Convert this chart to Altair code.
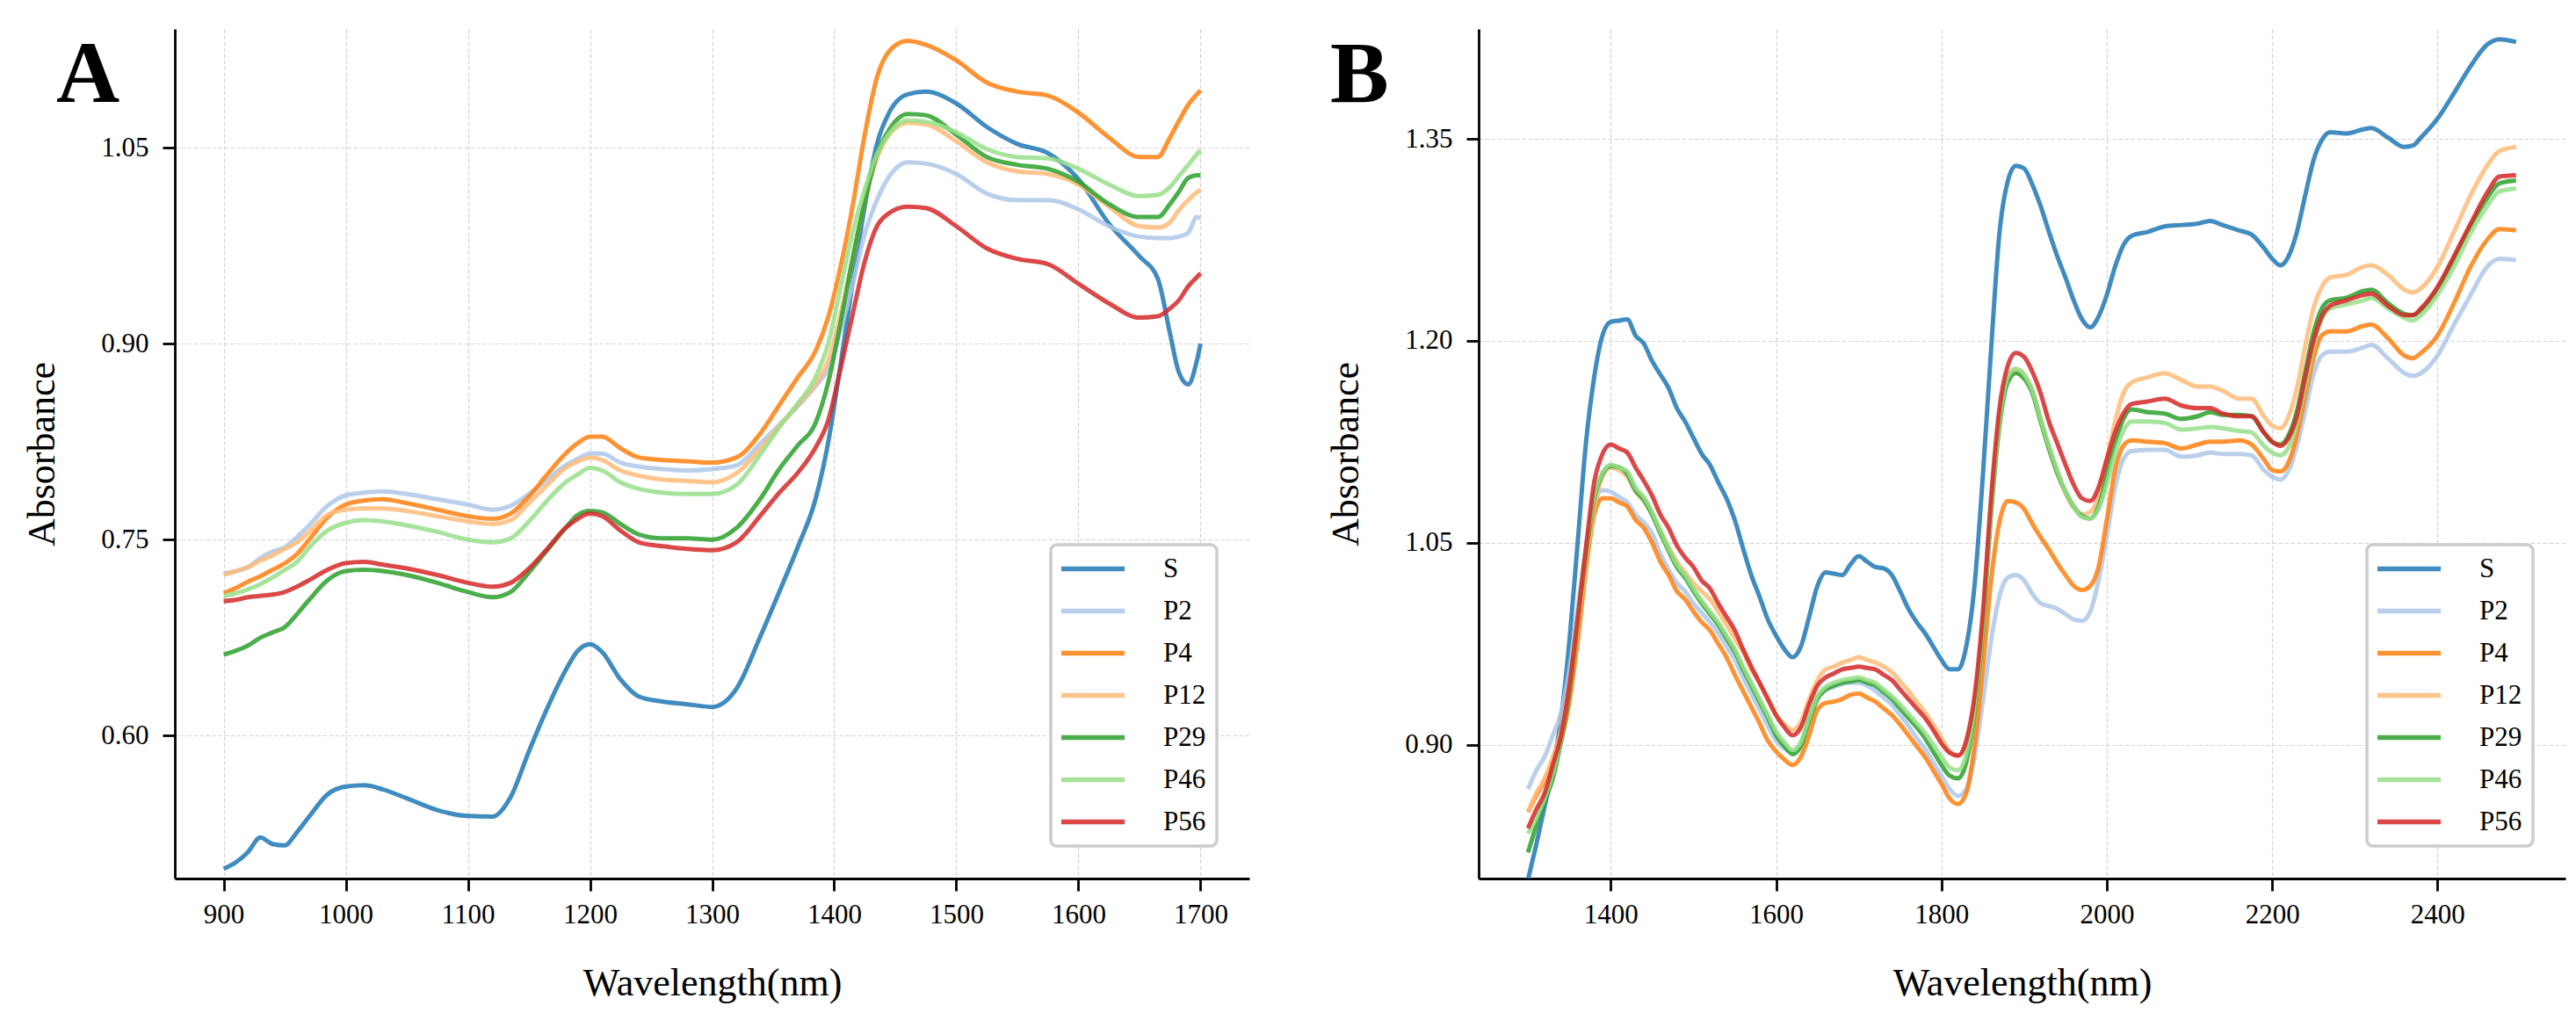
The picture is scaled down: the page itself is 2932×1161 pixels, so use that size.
import altair as alt
import pandas as pd

SERIES = ["S", "P2", "P4", "P12", "P29", "P46", "P56"]
COLORS = ["#1f77b4", "#aec7e8", "#ff7f0e", "#ffbb78", "#2ca02c", "#98df8a", "#d62728"]
FONT = "Liberation Serif"

# ---------------- Panel A (900-1700 nm) ----------------
WA = [900, 910, 920, 930, 940, 950, 960, 970, 985, 1000,
      1015, 1030, 1050, 1075, 1100, 1120, 1135, 1150, 1165, 1180,
      1190, 1200, 1210, 1225, 1240, 1260, 1280, 1300, 1320, 1340,
      1355, 1370, 1385, 1395, 1405, 1415, 1425, 1435, 1445, 1460,
      1475, 1500, 1525, 1550, 1575, 1600, 1625, 1650, 1665, 1675,
      1682, 1690, 1697, 1700]

A_S = [0.498, 0.503, 0.511, 0.522, 0.517, 0.516, 0.526, 0.538, 0.555, 0.561,
       0.562, 0.559, 0.552, 0.543, 0.5385, 0.538, 0.553, 0.588, 0.621, 0.650,
       0.665, 0.670, 0.664, 0.643, 0.630, 0.626, 0.624, 0.622, 0.636, 0.677,
       0.710, 0.744, 0.782, 0.824, 0.883, 0.946, 1.005, 1.053, 1.077, 1.091,
       1.093, 1.084, 1.066, 1.053, 1.046, 1.026, 0.992, 0.967, 0.950, 0.908,
       0.879, 0.869, 0.887, 0.900]
A_P2 = [0.724, 0.726, 0.729, 0.736, 0.741, 0.744, 0.752, 0.761, 0.776, 0.784,
        0.786, 0.787, 0.785, 0.781, 0.777, 0.773, 0.776, 0.785, 0.796, 0.807,
        0.812, 0.816, 0.816, 0.809, 0.806, 0.804, 0.803, 0.804, 0.807, 0.824,
        0.838, 0.852, 0.868, 0.881, 0.910, 0.945, 0.984, 1.010, 1.028, 1.039,
        1.038, 1.030, 1.015, 1.010, 1.010, 1.003, 0.990, 0.982, 0.981, 0.981,
        0.982, 0.985, 0.997, 0.996]
A_P4 = [0.709, 0.713, 0.718, 0.722, 0.727, 0.732, 0.739, 0.750, 0.767, 0.777,
        0.780, 0.781, 0.778, 0.773, 0.768, 0.766, 0.770, 0.783, 0.800, 0.816,
        0.824, 0.829, 0.829, 0.820, 0.813, 0.811, 0.810, 0.809, 0.813, 0.832,
        0.853, 0.874, 0.895, 0.920, 0.958, 1.005, 1.060, 1.104, 1.124, 1.132,
        1.129, 1.117, 1.100, 1.093, 1.090, 1.077, 1.058, 1.043, 1.043, 1.058,
        1.070, 1.083, 1.091, 1.094]
A_P12 = [0.723, 0.726, 0.729, 0.734, 0.738, 0.743, 0.748, 0.756, 0.769, 0.773,
         0.774, 0.774, 0.772, 0.768, 0.764, 0.762, 0.765, 0.778, 0.792, 0.805,
         0.810, 0.813, 0.811, 0.803, 0.799, 0.796, 0.795, 0.794, 0.801, 0.820,
         0.837, 0.853, 0.870, 0.887, 0.922, 0.964, 1.009, 1.042, 1.060, 1.069,
         1.068, 1.055, 1.039, 1.032, 1.030, 1.022, 1.005, 0.990, 0.989, 0.993,
         1.002, 1.010, 1.016, 1.018]
A_P29 = [0.662, 0.665, 0.669, 0.675, 0.679, 0.683, 0.693, 0.704, 0.719, 0.726,
         0.727, 0.726, 0.723, 0.717, 0.710, 0.706, 0.710, 0.725, 0.742, 0.759,
         0.769, 0.772, 0.771, 0.762, 0.754, 0.751, 0.751, 0.750, 0.759, 0.782,
         0.804, 0.822, 0.840, 0.870, 0.915, 0.965, 1.009, 1.045, 1.064, 1.076,
         1.075, 1.060, 1.043, 1.037, 1.034, 1.024, 1.007, 0.997, 0.997, 1.007,
         1.016, 1.027, 1.029, 1.029]
A_P46 = [0.707, 0.709, 0.712, 0.716, 0.721, 0.727, 0.733, 0.744, 0.757, 0.763,
         0.765, 0.764, 0.761, 0.756, 0.750, 0.748, 0.751, 0.764, 0.780, 0.794,
         0.800, 0.805, 0.803, 0.794, 0.789, 0.786, 0.785, 0.785, 0.792, 0.816,
         0.836, 0.854, 0.875, 0.900, 0.942, 0.985, 1.018, 1.045, 1.061, 1.071,
         1.070, 1.062, 1.049, 1.043, 1.042, 1.034, 1.022, 1.013, 1.014, 1.020,
         1.028, 1.037, 1.045, 1.048]
A_P56 = [0.703, 0.704, 0.706, 0.707, 0.708, 0.710, 0.714, 0.719, 0.727, 0.732,
         0.733, 0.731, 0.728, 0.723, 0.717, 0.714, 0.717, 0.728, 0.743, 0.759,
         0.766, 0.770, 0.768, 0.757, 0.748, 0.745, 0.743, 0.742, 0.748, 0.769,
         0.786, 0.801, 0.821, 0.841, 0.880, 0.922, 0.963, 0.990, 1.000, 1.005,
         1.004, 0.990, 0.973, 0.965, 0.961, 0.946, 0.931, 0.920, 0.921, 0.927,
         0.933, 0.944, 0.951, 0.954]

# ---------------- Panel B (1300-2495 nm) ----------------
WB = [1300, 1310, 1320, 1330, 1340, 1350, 1360, 1370, 1380, 1390,
      1400, 1410, 1420, 1430, 1440, 1450, 1460, 1470, 1480, 1490,
      1500, 1510, 1520, 1530, 1540, 1550, 1560, 1570, 1580, 1590,
      1600, 1610, 1620, 1630, 1640, 1650, 1660, 1670, 1680, 1690,
      1700, 1710, 1720, 1730, 1740, 1750, 1760, 1770, 1780, 1790,
      1800, 1810, 1820, 1830, 1840, 1850, 1860, 1870, 1880, 1890,
      1900, 1910, 1920, 1930, 1940, 1950, 1960, 1970, 1980, 1990,
      2000, 2010, 2020, 2030, 2050, 2070, 2090, 2110, 2125, 2140,
      2160, 2175, 2190, 2200, 2210, 2220, 2230, 2240, 2250, 2260,
      2270, 2290, 2310, 2320, 2340, 2360, 2370, 2380, 2400, 2420,
      2440, 2460, 2475, 2495]

B_S = [0.800, 0.826, 0.854, 0.883, 0.920, 0.977, 1.050, 1.124, 1.173, 1.204,
       1.214, 1.215, 1.216, 1.204, 1.198, 1.185, 1.175, 1.165, 1.150, 1.140,
       1.128, 1.116, 1.108, 1.095, 1.083, 1.067, 1.046, 1.026, 1.010, 0.993,
       0.981, 0.971, 0.965, 0.973, 0.995, 1.018, 1.028, 1.027, 1.026, 1.034,
       1.040, 1.036, 1.032, 1.031, 1.026, 1.014, 1.001, 0.991, 0.983, 0.973,
       0.963, 0.956, 0.956, 0.973, 1.018, 1.099, 1.193, 1.279, 1.318, 1.330,
       1.328, 1.316, 1.300, 1.281, 1.263, 1.247, 1.230, 1.216, 1.210, 1.218,
       1.234, 1.255, 1.271, 1.278, 1.281, 1.285, 1.286, 1.287, 1.289, 1.286,
       1.282, 1.279, 1.269, 1.261, 1.256, 1.263, 1.281, 1.308, 1.334, 1.349,
       1.355, 1.354, 1.357, 1.358, 1.351, 1.344, 1.345, 1.351, 1.365, 1.384,
       1.404, 1.420, 1.424, 1.422]
B_P2 = [0.867, 0.881, 0.891, 0.907, 0.924, 0.956, 1.001, 1.046, 1.079, 1.089,
        1.088, 1.084, 1.080, 1.071, 1.065, 1.057, 1.042, 1.030, 1.020, 1.014,
        1.005, 0.998, 0.991, 0.983, 0.973, 0.963, 0.950, 0.938, 0.926, 0.914,
        0.903, 0.897, 0.895, 0.901, 0.919, 0.935, 0.941, 0.943, 0.945, 0.946,
        0.946, 0.944, 0.940, 0.935, 0.930, 0.922, 0.914, 0.905, 0.897, 0.887,
        0.877, 0.867, 0.862, 0.867, 0.891, 0.932, 0.977, 1.010, 1.024, 1.026,
        1.022, 1.012, 1.005, 1.003, 1.001, 0.997, 0.993, 0.992, 0.999, 1.022,
        1.055, 1.091, 1.112, 1.118, 1.119, 1.119, 1.114, 1.115, 1.117, 1.116,
        1.116, 1.115, 1.104, 1.099, 1.097, 1.104, 1.122, 1.148, 1.175, 1.189,
        1.192, 1.192, 1.195, 1.197, 1.187, 1.176, 1.174, 1.176, 1.189, 1.212,
        1.234, 1.255, 1.261, 1.260]
B_P4 = [0.850, 0.862, 0.873, 0.887, 0.903, 0.932, 0.977, 1.030, 1.071, 1.083,
        1.083, 1.080, 1.077, 1.067, 1.061, 1.050, 1.036, 1.026, 1.014, 1.008,
        0.999, 0.991, 0.985, 0.975, 0.965, 0.952, 0.940, 0.928, 0.916, 0.903,
        0.895, 0.889, 0.885, 0.891, 0.907, 0.926, 0.931, 0.932, 0.934, 0.937,
        0.938, 0.935, 0.932, 0.927, 0.922, 0.915, 0.907, 0.899, 0.891, 0.881,
        0.871, 0.860, 0.856, 0.864, 0.899, 0.956, 1.022, 1.065, 1.081, 1.080,
        1.075, 1.064, 1.054, 1.045, 1.035, 1.026, 1.018, 1.015, 1.018, 1.032,
        1.067, 1.104, 1.122, 1.126, 1.125, 1.124, 1.120, 1.123, 1.125, 1.125,
        1.126, 1.123, 1.112, 1.104, 1.103, 1.110, 1.130, 1.159, 1.187, 1.204,
        1.207, 1.207, 1.211, 1.212, 1.202, 1.189, 1.187, 1.191, 1.204, 1.228,
        1.255, 1.275, 1.283, 1.282]
B_P12 = [0.850, 0.864, 0.875, 0.891, 0.911, 0.944, 0.989, 1.036, 1.077, 1.099,
         1.106, 1.104, 1.099, 1.088, 1.081, 1.071, 1.059, 1.047, 1.036, 1.028,
         1.020, 1.014, 1.008, 0.999, 0.989, 0.979, 0.969, 0.956, 0.946, 0.934,
         0.922, 0.915, 0.911, 0.917, 0.934, 0.948, 0.956, 0.958, 0.961, 0.963,
         0.965, 0.963, 0.961, 0.958, 0.954, 0.947, 0.940, 0.932, 0.924, 0.915,
         0.905, 0.895, 0.892, 0.901, 0.932, 0.991, 1.077, 1.142, 1.173, 1.179,
         1.175, 1.163, 1.142, 1.120, 1.102, 1.087, 1.076, 1.071, 1.073, 1.085,
         1.112, 1.140, 1.161, 1.169, 1.173, 1.176, 1.171, 1.166, 1.166, 1.163,
         1.157, 1.157, 1.144, 1.137, 1.135, 1.144, 1.165, 1.196, 1.224, 1.240,
         1.247, 1.249, 1.255, 1.256, 1.249, 1.238, 1.236, 1.239, 1.255, 1.281,
         1.308, 1.330, 1.341, 1.344]
B_P29 = [0.820, 0.840, 0.858, 0.875, 0.903, 0.940, 0.993, 1.042, 1.083, 1.101,
         1.107, 1.106, 1.101, 1.089, 1.082, 1.071, 1.057, 1.044, 1.032, 1.024,
         1.014, 1.005, 0.997, 0.989, 0.979, 0.969, 0.956, 0.944, 0.932, 0.920,
         0.907, 0.899, 0.893, 0.899, 0.918, 0.934, 0.941, 0.944, 0.946, 0.947,
         0.948, 0.946, 0.944, 0.939, 0.934, 0.927, 0.920, 0.913, 0.905, 0.895,
         0.885, 0.877, 0.875, 0.887, 0.924, 0.985, 1.071, 1.136, 1.169, 1.176,
         1.172, 1.161, 1.140, 1.120, 1.102, 1.088, 1.077, 1.070, 1.068, 1.077,
         1.100, 1.124, 1.142, 1.149, 1.147, 1.146, 1.142, 1.144, 1.147, 1.145,
         1.145, 1.144, 1.132, 1.125, 1.123, 1.130, 1.148, 1.177, 1.206, 1.224,
         1.230, 1.232, 1.237, 1.238, 1.228, 1.220, 1.219, 1.223, 1.238, 1.261,
         1.285, 1.306, 1.317, 1.319]
B_P46 = [0.834, 0.846, 0.860, 0.879, 0.905, 0.944, 0.995, 1.046, 1.085, 1.102,
         1.108, 1.106, 1.103, 1.091, 1.084, 1.073, 1.059, 1.046, 1.034, 1.026,
         1.016, 1.007, 0.999, 0.991, 0.981, 0.971, 0.958, 0.946, 0.934, 0.922,
         0.910, 0.902, 0.896, 0.902, 0.920, 0.936, 0.943, 0.946, 0.948, 0.949,
         0.950, 0.948, 0.946, 0.941, 0.936, 0.930, 0.923, 0.916, 0.909, 0.900,
         0.891, 0.883, 0.881, 0.893, 0.928, 0.989, 1.075, 1.140, 1.173, 1.179,
         1.175, 1.163, 1.142, 1.122, 1.104, 1.088, 1.077, 1.069, 1.068, 1.075,
         1.094, 1.116, 1.133, 1.140, 1.140, 1.139, 1.134, 1.135, 1.136, 1.135,
         1.133, 1.132, 1.122, 1.117, 1.115, 1.121, 1.139, 1.167, 1.196, 1.216,
         1.224, 1.227, 1.230, 1.232, 1.224, 1.217, 1.215, 1.219, 1.234, 1.255,
         1.280, 1.300, 1.311, 1.313]
B_P56 = [0.838, 0.852, 0.864, 0.885, 0.907, 0.944, 0.993, 1.046, 1.095, 1.116,
         1.123, 1.120, 1.117, 1.106, 1.096, 1.085, 1.071, 1.061, 1.048, 1.039,
         1.032, 1.022, 1.016, 1.005, 0.995, 0.985, 0.971, 0.958, 0.946, 0.934,
         0.922, 0.913, 0.907, 0.913, 0.930, 0.944, 0.950, 0.953, 0.956, 0.957,
         0.958, 0.957, 0.956, 0.952, 0.948, 0.941, 0.934, 0.927, 0.920, 0.911,
         0.901, 0.894, 0.892, 0.903, 0.936, 0.997, 1.083, 1.149, 1.181, 1.191,
         1.188, 1.177, 1.161, 1.140, 1.124, 1.108, 1.093, 1.083, 1.081, 1.091,
         1.112, 1.132, 1.146, 1.153, 1.155, 1.157, 1.152, 1.150, 1.150, 1.146,
         1.144, 1.144, 1.132, 1.125, 1.122, 1.128, 1.144, 1.173, 1.200, 1.218,
         1.226, 1.230, 1.234, 1.235, 1.226, 1.219, 1.219, 1.224, 1.240, 1.263,
         1.287, 1.310, 1.322, 1.323]

A_TICKS_X = [900, 1000, 1100, 1200, 1300, 1400, 1500, 1600, 1700]
A_TICKS_Y = [0.60, 0.75, 0.90, 1.05]
B_TICKS_X = [1400, 1600, 1800, 2000, 2200, 2400]
B_TICKS_Y = [0.90, 1.05, 1.20, 1.35]


def to_long(w, cols):
    rows = []
    for name, vals in zip(SERIES, cols):
        assert len(vals) == len(w), name
        for x, y in zip(w, vals):
            rows.append({"wl": x, "ab": y, "series": name})
    return pd.DataFrame(rows)


dfA = to_long(WA, [A_S, A_P2, A_P4, A_P12, A_P29, A_P46, A_P56])
dfB = to_long(WB, [B_S, B_P2, B_P4, B_P12, B_P29, B_P46, B_P56])

H = 967


def panel(df, xdom, ydom, xticks, yticks, letter, letter_x, w):
    color = alt.Color("series:N",
                      scale=alt.Scale(domain=SERIES, range=COLORS),
                      sort=SERIES, legend=alt.Legend(title=None))
    lines = alt.Chart(df).mark_line(strokeWidth=5, opacity=0.85, clip=True,
                                    interpolate="monotone").encode(
        x=alt.X("wl:Q",
                scale=alt.Scale(domain=xdom, nice=False, zero=False),
                axis=alt.Axis(values=xticks, format="d", title="Wavelength(nm)",
                              titleX=w / 2, titleY=132, labelPadding=12)),
        y=alt.Y("ab:Q",
                scale=alt.Scale(domain=ydom, nice=False, zero=False),
                axis=alt.Axis(values=yticks, format=".2f", title="Absorbance",
                              titleX=-138, titleY=H / 2, titleAngle=270,
                              labelPadding=16)),
        color=color,
        order=alt.Order("wl:Q"),
    )
    lab = alt.Chart(pd.DataFrame({"t": [letter]})).mark_text(
        font=FONT, fontSize=100, fontWeight="bold", align="left",
        baseline="alphabetic", color="black"
    ).encode(text="t:N", x=alt.value(letter_x), y=alt.value(83))
    return alt.layer(lines, lab).properties(width=w, height=H)


pA = panel(dfA, [860, 1740], [0.4906, 1.141], A_TICKS_X, A_TICKS_Y, "A", -135, 1223)
pB = panel(dfB, [1240.25, 2554.75], [0.8006, 1.4316], B_TICKS_X, B_TICKS_Y, "B", -169, 1237)

chart = (
    alt.hconcat(pA, pB, spacing=261, bounds="flush")
    .resolve_scale(color="independent")
    .resolve_legend(color="independent")
    .properties(padding={"left": 18, "top": 25, "right": 2, "bottom": 5},
                background="white")
    .configure_view(stroke=None)
    .configure_axis(
        grid=True, gridColor="#d3d3d3", gridDash=[4.5, 2.5], gridWidth=1.2,
        domainColor="black", domainWidth=2.8,
        tickColor="black", tickWidth=2.8, tickSize=14,
        labelFont=FONT, labelFontSize=31, labelColor="black",
        labelFlush=False, labelOverlap=False,
        titleFont=FONT, titleFontSize=44, titleFontWeight="normal",
        titleColor="black", titleBaseline="alphabetic", titleAlign="center",
    )
    .configure_legend(
        orient="bottom-right", offset=37, padding=12,
        strokeColor="#cccccc", strokeWidth=3.5, cornerRadius=7, fillColor="white",
        symbolType="M-3,0H3", symbolSize=576, symbolStrokeWidth=5.5,
        symbolOffset=20.5, labelOffset=64.5, symbolOpacity=0.85,
        labelFont=FONT, labelFontSize=31, labelColor="black",
        rowPadding=16, labelLimit=0,
    )
)

chart.save("out.html", embed_options={"renderer": "svg", "actions": False})
